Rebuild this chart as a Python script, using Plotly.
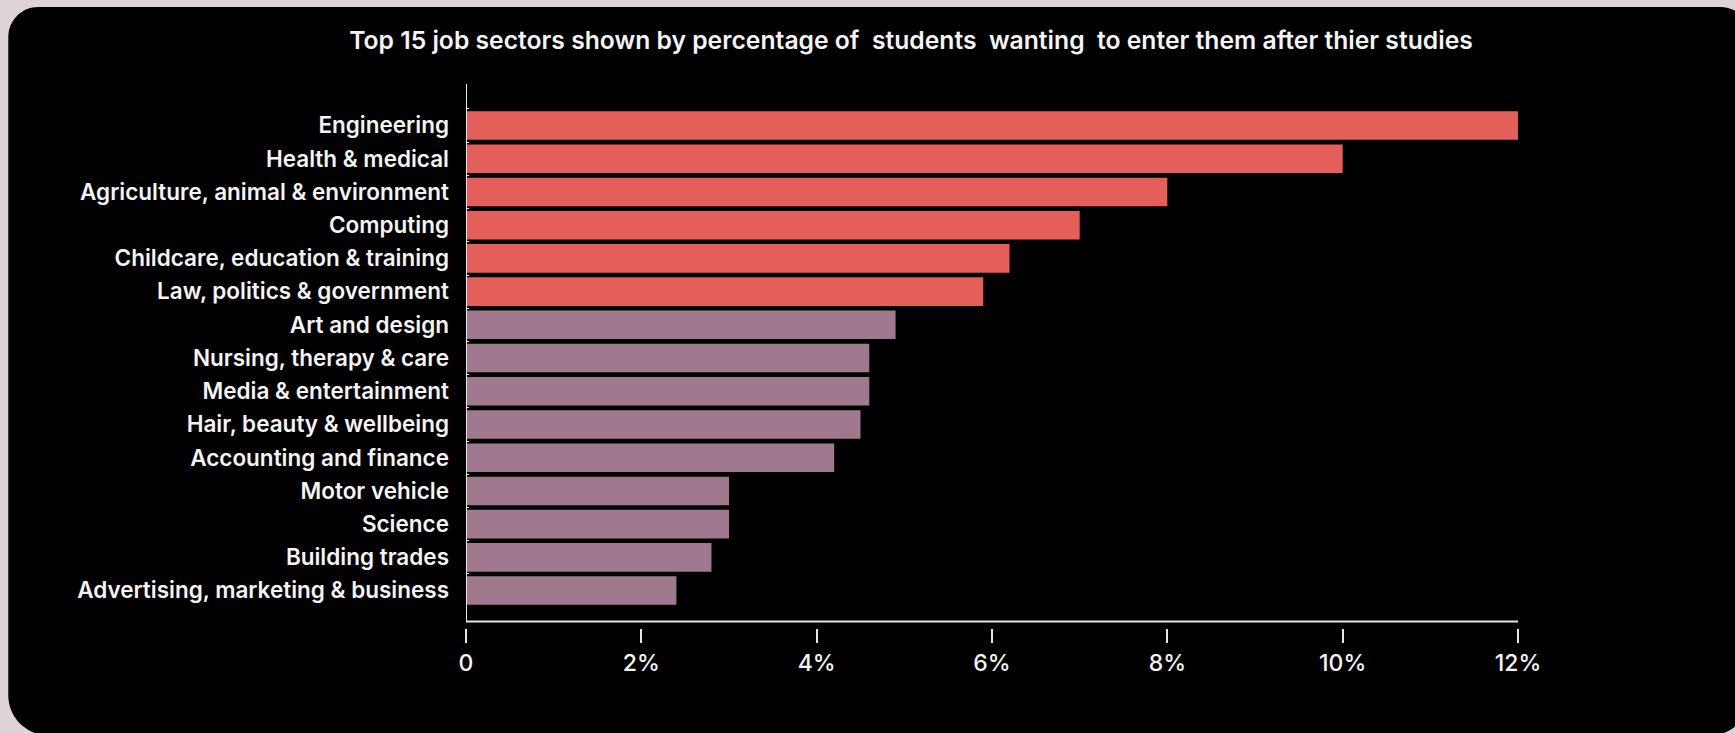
import plotly.graph_objects as go

# ---- data ----
sectors = [
    "Engineering",
    "Health & medical",
    "Agriculture, animal & environment",
    "Computing",
    "Childcare, education & training",
    "Law, politics & government",
    "Art and design",
    "Nursing, therapy & care",
    "Media & entertainment",
    "Hair, beauty & wellbeing",
    "Accounting and finance",
    "Motor vehicle",
    "Science",
    "Building trades",
    "Advertising, marketing & business",
]
percent = [12.0, 10.0, 8.0, 7.0, 6.2, 5.9, 4.9, 4.6, 4.6, 4.5, 4.2, 3.0, 3.0, 2.8, 2.4]
group = ["top"] * 6 + ["other"] * 9
tick_vals = [0, 2, 4, 6, 8, 10, 12]
tick_text = ["0", "2%", "4%", "6%", "8%", "10%", "12%"]
title_text = ("Top 15 job sectors shown by percentage of\u00a0 students\u00a0 wanting\u00a0 "
              "to enter them after thier studies")

# ---- style ----
W, H = 1735, 733
RED = "#e45e5a"
MAUVE = "#a0798e"
PAGE_BG = "#ded3d7"
FONT = "Inter"
TEXT = "#f4f4f4"

L, R_EDGE, T, B_EDGE = 465.7, 1517.7, 84.0, 627.7
pw, ph = R_EDGE - L, B_EDGE - T

colors = [RED if g == "top" else MAUVE for g in group]

fig = go.Figure(go.Bar(
    x=percent,
    y=sectors,
    orientation="h",
    marker=dict(color=colors, line=dict(width=0)),
    hoverinfo="x+y",
))


def px2paper(x, y):
    return (x - L) / pw, (B_EDGE - y) / ph


# rounded black card
left, top, right, bottom = 8, 7, 1750, 735
rt, rb = 30, 40
k = 0.5523


def P(x, y):
    a, b = px2paper(x, y)
    return f"{a:.5f},{b:.5f}"


path = (
    f"M {P(left + rt, top)} L {P(right - rt, top)} "
    f"C {P(right - rt + k * rt, top)} {P(right, top + rt - k * rt)} {P(right, top + rt)} "
    f"L {P(right, bottom - rb)} "
    f"C {P(right, bottom - rb + k * rb)} {P(right - rb + k * rb, bottom)} {P(right - rb, bottom)} "
    f"L {P(left + rb, bottom)} "
    f"C {P(left + rb - k * rb, bottom)} {P(left, bottom - rb + k * rb)} {P(left, bottom - rb)} "
    f"L {P(left, top + rt)} "
    f"C {P(left, top + rt - k * rt)} {P(left + rt - k * rt, top)} {P(left + rt, top)} Z"
)

pitch = 33.2
range_top = -1.25
range_bottom = range_top + ph / pitch
axis_line_y = (621.3 - T) / pitch + range_top

shapes = [
    dict(type="path", path=path, xref="paper", yref="paper",
         fillcolor="black", line=dict(width=0), layer="below"),
    # x axis line
    dict(type="line", xref="x", yref="y", x0=0, x1=tick_vals[-1],
         y0=axis_line_y, y1=axis_line_y, line=dict(color="#e6e6e6", width=2)),
    # y axis line
    dict(type="line", xref="x", yref="y", x0=0, x1=0,
         y0=range_top, y1=axis_line_y, line=dict(color="#e6e6e6", width=2)),
]

fig.update_layout(
    width=W, height=H,
    margin=dict(l=L, r=W - R_EDGE, t=T, b=H - B_EDGE, pad=0),
    paper_bgcolor=PAGE_BG,
    plot_bgcolor="black",
    bargap=0.14,
    showlegend=False,
    font=dict(family=FONT, color=TEXT, size=20),
    title=dict(
        text=title_text,
        x=911 / W, xref="container", xanchor="center",
        y=1 - 40 / H, yref="container", yanchor="middle",
        font=dict(family=FONT, size=24.7, color=TEXT, weight=600),
    ),
    shapes=shapes,
    xaxis=dict(
        range=[0, tick_vals[-1]],
        tickvals=tick_vals, ticktext=tick_text,
        showgrid=False, zeroline=False, showline=False,
        ticks="outside", ticklen=14, tickwidth=2, tickcolor="#e6e6e6",
        tickfont=dict(family=FONT, size=23, color=TEXT, weight=500),
        ticklabelstandoff=0,
        fixedrange=True,
    ),
    yaxis=dict(
        categoryorder="array", categoryarray=sectors,
        range=[range_bottom, range_top],
        showgrid=False, zeroline=False, showline=False,
        ticks="inside", ticklen=3, tickwidth=1, tickcolor="#e6e6e6",
        tickson="boundaries",
        tickfont=dict(family=FONT, size=22.5, color=TEXT, weight=600),
        ticklabelstandoff=16,
        fixedrange=True,
    ),
)

fig.write_html(
    "out.html",
    config={"displayModeBar": False},
    post_script="document.body.style.margin='0';document.body.style.padding='0';",
)
